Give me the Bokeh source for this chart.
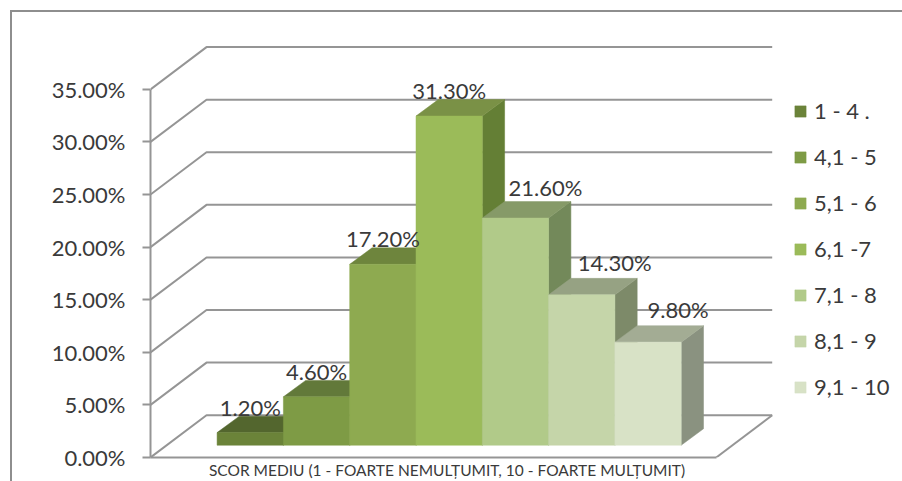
from bokeh.plotting import figure
from bokeh.models import (Range1d, FixedTicker, PrintfTickFormatter, Legend, LegendItem,
                          ColumnDataSource, InlineStyleSheet)
from bokeh.core.properties import value
from bokeh.embed import file_html
from bokeh.resources import INLINE

# ---- data ----
categories = ["1 - 4 .", "4,1 - 5", "5,1 - 6", "6,1 -7", "7,1 - 8", "8,1 - 9", "9,1 - 10"]
percentages = [1.2, 4.6, 17.2, 31.3, 21.6, 14.3, 9.8]
value_labels = ["1.20%", "4.60%", "17.20%", "31.30%", "21.60%", "14.30%", "9.80%"]
y_ticks = [0, 5, 10, 15, 20, 25, 30, 35]
axis_title = "SCOR MEDIU (1 - FOARTE NEMULȚUMIT, 10 - FOARTE MULȚUMIT)"

# ---- styles ----
front_colors = ["#6b8339", "#7e9b45", "#8eaa50", "#9bbb59", "#b1ca89", "#c5d5a9", "#d8e2c6"]
top_colors = ["#53662e", "#62793a", "#6e853d", "#7a9146", "#869a68", "#96a283", "#a3ac94"]
side_colors = ["#4f612b", "#5d7331", "#687f35", "#647f35", "#73895a", "#7d8a69", "#8a9280"]
GRID = "#959595"
TEXT = "#3a3a3a"
FONT = "Lato"
FS = "22px"

# ---- projection, in data units (x: bar widths, y: percent) ----
PX_X = 66.3
PX_Y = 10.54
AXIS_X = -66.6 / PX_X
WALL_DX, WALL_DY = 56.0 / PX_X, 42.4 / PX_Y
BAR_DX, BAR_DY = 22.3 / PX_X, 16.5 / PX_Y
BASE = 12.3 / PX_Y
FLOOR_W = 565.7 / PX_X

# horizontal/vertical pixel nudges of the value labels
label_dx = [0, 0, 0, 0, 30, 33, 30]
label_dy = [25, 25, 26, 26, 31, 32, 33]

p = figure(width=902, height=481, output_backend="svg", toolbar_location=None,
           x_range=Range1d(AXIS_X, AXIS_X + 752 / PX_X), y_range=Range1d(0, 458 / PX_Y),
           min_border_left=150, min_border_right=0, min_border_top=0, min_border_bottom=23,
           outline_line_color=None, background_fill_color="white", border_fill_color="white")
p.grid.visible = False

# outer chart border
p.stylesheets = [InlineStyleSheet(css=(
    ":host::after {content:''; position:absolute; left:10px; top:10px; right:0; bottom:0;"
    " border-left:2px solid #8e8e8e; border-top:2px solid #8e8e8e; pointer-events:none; z-index:100;}"
))]

# walls and floor
xs, ys = [], []
for t in y_ticks:
    xs.append([AXIS_X, AXIS_X + WALL_DX, AXIS_X + WALL_DX + FLOOR_W])
    ys.append([t, t + WALL_DY, t + WALL_DY])
xs.append([AXIS_X + WALL_DX + FLOOR_W, AXIS_X + FLOOR_W])
ys.append([WALL_DY, 0])
p.multi_line(xs, ys, line_color=GRID, line_width=2)

# bars, painted left to right
items = []
for i, (name, v) in enumerate(zip(categories, percentages)):
    y1 = BASE + v
    p.patch([i + 1, i + 1 + BAR_DX, i + 1 + BAR_DX, i + 1],
            [BASE, BASE + BAR_DY, y1 + BAR_DY, y1],
            fill_color=side_colors[i], line_color=side_colors[i], line_width=0.5)
    p.patch([i, i + BAR_DX, i + 1 + BAR_DX, i + 1],
            [y1, y1 + BAR_DY, y1 + BAR_DY, y1],
            fill_color=top_colors[i], line_color=top_colors[i], line_width=0.5)
    r = p.patch([i, i + 1, i + 1, i], [BASE, BASE, y1, y1],
                fill_color=front_colors[i], line_color=front_colors[i], line_width=0.5)
    items.append(LegendItem(label=name, renderers=[r]))

# value labels
src = ColumnDataSource(dict(
    x=[i + 0.5 for i in range(len(percentages))],
    y=[BASE + v for v in percentages],
    t=value_labels, dx=label_dx, dy=[-d for d in label_dy]))
p.text("x", "y", text="t", source=src, x_offset="dx", y_offset="dy",
       text_font=value(FONT), text_font_size=FS, text_color=TEXT,
       text_align="center", text_baseline="middle")

# axes
ya = p.yaxis[0]
ya.ticker = FixedTicker(ticks=y_ticks)
ya.formatter = PrintfTickFormatter(format="%.2f%%")
ya.bounds = (0, 35)
ya.major_tick_in = 0
ya.major_tick_out = 8
ya.minor_tick_line_color = None
ya.axis_line_color = GRID
ya.axis_line_width = 2
ya.major_tick_line_color = GRID
ya.major_tick_line_width = 2
ya.major_label_standoff = 17
ya.major_label_text_font = FONT
ya.major_label_text_font_size = FS
ya.major_label_text_color = TEXT

xa = p.xaxis[0]
mid = AXIS_X + 296.5 / PX_X
xa.ticker = FixedTicker(ticks=[mid])
xa.major_label_overrides = {mid: axis_title}
xa.bounds = (AXIS_X, AXIS_X + FLOOR_W)
xa.major_tick_in = 0
xa.major_tick_out = 0
xa.minor_tick_in = 0
xa.minor_tick_out = 0
xa.major_tick_line_color = None
xa.minor_tick_line_color = None
xa.axis_line_color = GRID
xa.axis_line_width = 2
xa.major_label_standoff = 3
xa.major_label_text_font = FONT
xa.major_label_text_font_size = "15.5px"
xa.major_label_text_color = TEXT

# legend
leg = Legend(items=items, location=(643, 57), orientation="vertical",
             padding=0, margin=0, spacing=19, glyph_width=14, glyph_height=14,
             label_height=25, label_standoff=7, border_line_color=None,
             background_fill_alpha=0, label_text_font=FONT, label_text_font_size=FS,
             label_text_color=TEXT)
p.add_layout(leg, "center")

open("out.html", "w").write(file_html(p, INLINE))
